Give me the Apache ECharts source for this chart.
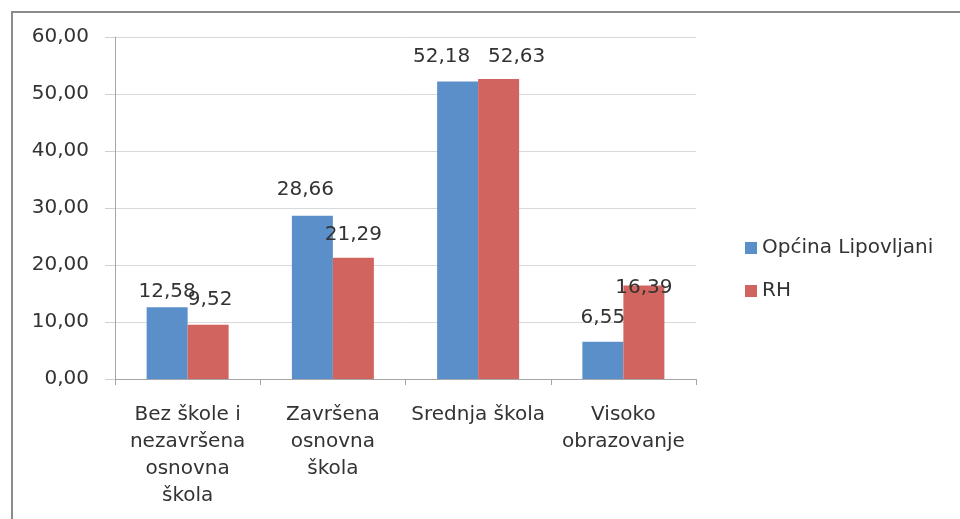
<!DOCTYPE html>
<html>
<head>
<meta charset="utf-8">
<script src="https://cdn.jsdelivr.net/npm/echarts@6/dist/echarts.min.js"></script>
<style>
  html, body { margin: 0; padding: 0; background: #fff; }
  #chart { width: 960px; height: 519px; }
</style>
</head>
<body>
<div id="chart"></div>
<script>
const categories = [
  'Bez škole i\nnezavršena\nosnovna\nškola',
  'Završena\nosnovna\nškola',
  'Srednja škola',
  'Visoko\nobrazovanje'
];
const opcina = [12.58, 28.66, 52.18, 6.55];
const rh = [9.52, 21.29, 52.63, 16.39];

// label nudges, Excel put some of them off-centre
const opcinaOffsets = [[0, 0], [-7, -11], [-16, -10], [0, -9]];
const rhOffsets = [[2, -10], [0, -8], [18, -7], [0, 17]];

const FONT = 'DejaVu Sans';
const SIZE = 20;
const fmt = (v) => v.toFixed(2).replace('.', ',');

function withLabels(values, offsets) {
  return values.map((v, i) => ({
    value: v,
    label: { offset: offsets[i] }
  }));
}

const chart = echarts.init(document.getElementById('chart'));
chart.setOption({
  animation: false,
  textStyle: { fontFamily: FONT },
  graphic: [{
    type: 'rect',
    shape: { x: 12, y: 12, width: 1200, height: 1000 },
    style: { fill: 'none', stroke: '#8c8c8c', lineWidth: 2 },
    silent: true
  }],
  legend: {
    orient: 'vertical',
    left: 740,
    top: 233,
    itemWidth: 12,
    itemHeight: 12,
    itemGap: 23,
    icon: 'rect',
    textStyle: { fontFamily: FONT, fontSize: SIZE, color: '#333' },
    data: ['Općina Lipovljani', 'RH']
  },
  grid: { left: 115, right: 264, top: 37, bottom: 140 },
  xAxis: {
    type: 'category',
    data: categories,
    axisLine: { lineStyle: { color: '#a6a6a6' } },
    axisTick: { show: true, length: 6, lineStyle: { color: '#a6a6a6' } },
    axisLabel: {
      fontFamily: FONT, fontSize: SIZE, color: '#333',
      lineHeight: 27, margin: 22, interval: 0
    }
  },
  yAxis: {
    type: 'value',
    min: 0, max: 60, interval: 10,
    axisLine: { show: true, lineStyle: { color: '#a6a6a6' } },
    axisTick: { show: true, length: 10, lineStyle: { color: '#d0d0d0' } },
    splitLine: { lineStyle: { color: '#d9d9d9' } },
    axisLabel: {
      fontFamily: FONT, fontSize: SIZE, color: '#333', margin: 26,
      formatter: fmt
    }
  },
  series: [
    {
      name: 'Općina Lipovljani',
      type: 'bar',
      data: withLabels(opcina, opcinaOffsets),
      barWidth: 41,
      barGap: '0%',
      itemStyle: { color: '#5b8fc9' },
      label: {
        show: true, position: 'top', distance: 5,
        fontFamily: FONT, fontSize: SIZE, color: '#333',
        formatter: (p) => fmt(p.value)
      }
    },
    {
      name: 'RH',
      type: 'bar',
      data: withLabels(rh, rhOffsets),
      barWidth: 41,
      barGap: '0%',
      itemStyle: { color: '#d1645e' },
      label: {
        show: true, position: 'top', distance: 5,
        fontFamily: FONT, fontSize: SIZE, color: '#333',
        formatter: (p) => fmt(p.value)
      }
    }
  ]
});
</script>
</body>
</html>
